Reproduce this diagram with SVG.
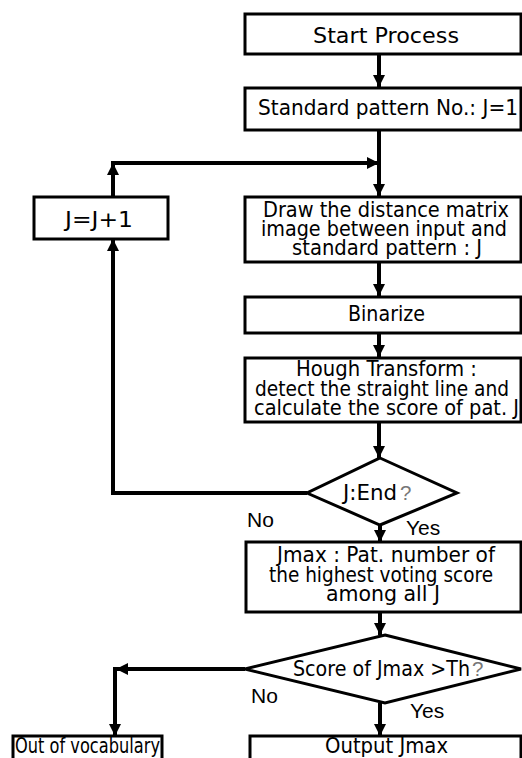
<svg xmlns="http://www.w3.org/2000/svg" width="522" height="758" viewBox="0 0 522 758">
<style>
.box{fill:#fff;stroke:#000;stroke-width:3}
.t{font-family:"DejaVu Sans",Verdana,sans-serif;font-size:20.5px;fill:#000;text-anchor:middle}
.tl{font-family:"DejaVu Sans",Verdana,sans-serif;font-size:20.5px;fill:#000}
.q{font-family:"Liberation Sans",Arial,sans-serif;font-size:20.5px;fill:#777}
.lab{font-family:"Liberation Sans",Arial,sans-serif;font-size:21px;fill:#000}
.c{fill:none;stroke:#000;stroke-width:4}
</style>
<defs>
<marker id="ah" viewBox="0 0 10 10" refX="10" refY="5" markerWidth="3" markerHeight="3" markerUnits="strokeWidth" orient="auto">
<path d="M0,0 L10,5 L0,10 z" fill="#000"/>
</marker>
</defs>
<rect width="522" height="758" fill="#fff"/>
<g id="connectors">
<line class="c" x1="379" y1="55" x2="379" y2="87" marker-end="url(#ah)"/>
<line class="c" x1="379" y1="131" x2="379" y2="196" marker-end="url(#ah)"/>
<line class="c" x1="379" y1="262" x2="379" y2="296" marker-end="url(#ah)"/>
<line class="c" x1="379" y1="333" x2="379" y2="357" marker-end="url(#ah)"/>
<line class="c" x1="379" y1="422" x2="379" y2="458" marker-end="url(#ah)"/>
<line class="c" x1="380" y1="525" x2="380" y2="542" marker-end="url(#ah)"/>
<line class="c" x1="380" y1="612" x2="380" y2="635" marker-end="url(#ah)"/>
<line class="c" x1="380" y1="703" x2="380" y2="736" marker-end="url(#ah)"/>
<polyline class="c" points="307,493 113,493 113,239" marker-end="url(#ah)"/>
<line class="c" x1="113" y1="197" x2="113" y2="163" marker-end="url(#ah)"/>
<line class="c" x1="111" y1="163" x2="379" y2="163" marker-end="url(#ah)"/>
<line class="c" x1="245" y1="669" x2="116" y2="669" marker-end="url(#ah)"/>
<line class="c" x1="115" y1="667" x2="115" y2="736" marker-end="url(#ah)"/>
</g>
<g id="start"><rect class="box" x="245" y="14" width="276" height="40"/><text class="t" x="386" y="43" style="font-size:21.5px" textLength="146" lengthAdjust="spacingAndGlyphs">Start Process</text></g>
<g id="standard"><rect class="box" x="245" y="88" width="276" height="42"/><text class="t" x="388" y="115" textLength="260" lengthAdjust="spacingAndGlyphs">Standard pattern No.: J=1</text></g>
<g id="increment"><rect class="box" x="34" y="197" width="134" height="42"/><text class="t" x="99" y="227" textLength="68" lengthAdjust="spacingAndGlyphs">J=J+1</text></g>
<g id="draw"><rect class="box" x="245" y="197" width="276" height="65"/>
<text class="t" x="386" y="216.5" textLength="246" lengthAdjust="spacingAndGlyphs">Draw the distance matrix</text>
<text class="t" x="384" y="235.5" textLength="246" lengthAdjust="spacingAndGlyphs">image between input and</text>
<text class="t" x="387" y="254.5" textLength="190" lengthAdjust="spacingAndGlyphs">standard pattern : J</text></g>
<g id="binarize"><rect class="box" x="245" y="297" width="276" height="36"/><text class="t" x="386.5" y="321" textLength="77" lengthAdjust="spacingAndGlyphs">Binarize</text></g>
<g id="hough"><rect class="box" x="245" y="358" width="276" height="64"/>
<text class="t" x="386.5" y="376" textLength="181" lengthAdjust="spacingAndGlyphs">Hough Transform :</text>
<text class="t" x="382" y="396" textLength="254" lengthAdjust="spacingAndGlyphs">detect the straight line and</text>
<text class="t" x="386.5" y="415" textLength="265" lengthAdjust="spacingAndGlyphs">calculate the score of pat. J</text></g>
<g id="jend"><polygon class="box" points="380,458 457,493 380,525 307,493"/>
<text class="tl" x="343" y="500" textLength="54" lengthAdjust="spacingAndGlyphs">J:End</text><text class="q" x="400" y="500">?</text></g>
<g id="jmax"><rect class="box" x="246" y="542" width="275" height="70"/>
<text class="t" x="386" y="562" textLength="218" lengthAdjust="spacingAndGlyphs">Jmax : Pat. number of</text>
<text class="t" x="381" y="582" textLength="224" lengthAdjust="spacingAndGlyphs">the highest voting score</text>
<text class="t" x="383" y="601">among all J</text></g>
<g id="score"><polygon class="box" points="385,635 521,669 385,703 245,669"/>
<text class="tl" x="293" y="676" textLength="177" lengthAdjust="spacingAndGlyphs">Score of Jmax &gt;Th</text><text class="q" x="472" y="676">?</text></g>
<g id="oov"><rect class="box" x="13" y="736" width="149" height="30"/><text class="t" x="87.5" y="753" textLength="145" lengthAdjust="spacingAndGlyphs">Out of vocabulary</text></g>
<g id="output"><rect class="box" x="250" y="736" width="271" height="30"/><text class="t" x="386.5" y="753" textLength="123" lengthAdjust="spacingAndGlyphs">Output Jmax</text></g>
<g id="labels">
<text class="lab" x="247" y="527">No</text>
<text class="lab" x="406" y="535">Yes</text>
<text class="lab" x="251" y="703">No</text>
<text class="lab" x="410" y="718">Yes</text>
</g>
</svg>
